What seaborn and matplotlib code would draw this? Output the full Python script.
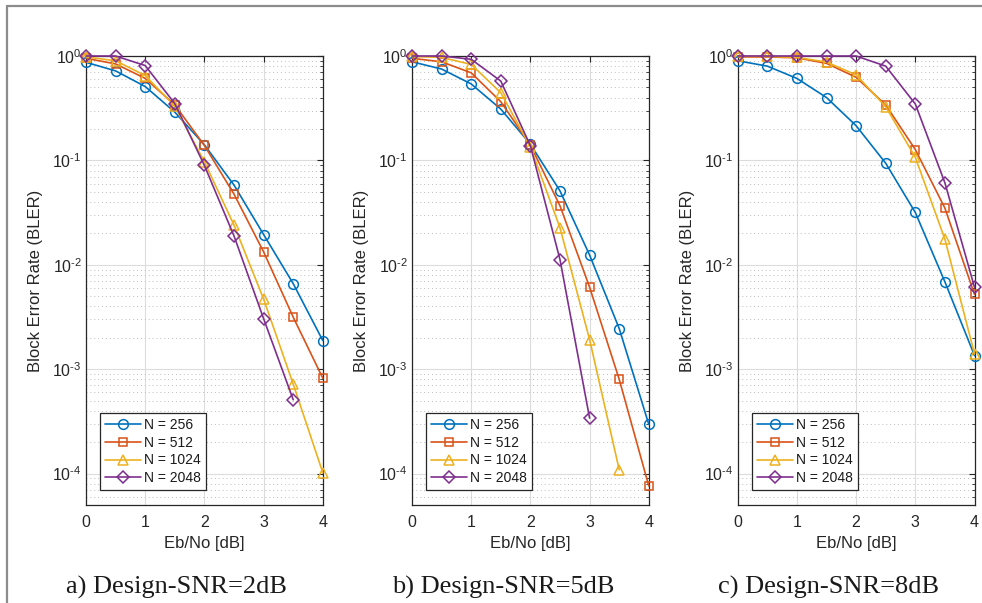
import matplotlib
matplotlib.use("Agg")
import matplotlib.pyplot as plt
import seaborn as sns
import pandas as pd
from matplotlib.ticker import LogLocator, FuncFormatter, NullFormatter, FixedLocator
from matplotlib.lines import Line2D
import math

# Eb/No sweep in dB
ebno = [0, 0.5, 1, 1.5, 2, 2.5, 3, 3.5, 4]
block_lengths = ["N = 256", "N = 512", "N = 1024", "N = 2048"]
captions = ["a) Design-SNR=2dB", "b) Design-SNR=5dB", "c) Design-SNR=8dB"]

# BLER, Design-SNR = 2 dB
bler_2db_n256 = [0.87, 0.72, 0.51, 0.29, 0.141, 0.058, 0.0195, 0.0066, 0.00188]
bler_2db_n512 = [0.95, 0.84, 0.61, 0.34, 0.139, 0.0475, 0.0133, 0.00315, 0.00082]
bler_2db_n1024 = [0.98, 0.90, 0.65, 0.33, 0.097, 0.024, 0.0047, 0.00072, 0.000102]
bler_2db_n2048 = [1.0, 1.0, 0.81, 0.35, 0.0895, 0.0189, 0.00305, 0.00051]

# BLER, Design-SNR = 5 dB
bler_5db_n256 = [0.88, 0.75, 0.54, 0.31, 0.143, 0.051, 0.0124, 0.00245, 0.000296]
bler_5db_n512 = [0.95, 0.88, 0.69, 0.365, 0.14, 0.0367, 0.0061, 0.0008, 0.000076]
bler_5db_n1024 = [0.99, 0.97, 0.83, 0.445, 0.135, 0.0226, 0.00192, 0.000109]
bler_5db_n2048 = [1.0, 1.0, 0.93, 0.575, 0.138, 0.0112, 0.00034]

# BLER, Design-SNR = 8 dB
bler_8db_n256 = [0.90, 0.80, 0.61, 0.40, 0.215, 0.094, 0.0317, 0.00686, 0.00135]
bler_8db_n512 = [0.98, 0.98, 0.96, 0.85, 0.625, 0.34, 0.127, 0.0349, 0.0052]
bler_8db_n1024 = [0.99, 0.99, 0.97, 0.875, 0.66, 0.327, 0.107, 0.0176, 0.0014]
bler_8db_n2048 = [1.0, 1.0, 1.0, 1.0, 1.0, 0.80, 0.347, 0.061, 0.0061]

panels = [
    [bler_2db_n256, bler_2db_n512, bler_2db_n1024, bler_2db_n2048],
    [bler_5db_n256, bler_5db_n512, bler_5db_n1024, bler_5db_n2048],
    [bler_8db_n256, bler_8db_n512, bler_8db_n1024, bler_8db_n2048],
]

colors = ["#0072BD", "#D95319", "#EDB120", "#7E2F8E"]
markers = ["o", "s", "^", "D"]
marker_sizes = [7, 6, 7.5, 6]

sns.set_theme(style="white")
plt.rcParams["font.family"] = ["Liberation Sans", "DejaVu Sans"]
plt.rcParams["mathtext.default"] = "regular"


def decade_label(v, pos):
    e = int(round(math.log10(v)))
    sign = "\u2010" if e < 0 else ""
    return "10$^{\\mathregular{%s%d}}$" % (sign, abs(e))


fig = plt.figure(figsize=(9.82, 6.03), dpi=100)
fig.patch.set_facecolor("white")

# thin gray frame along the top and left edge of the figure
fig.add_artist(Line2D([7 / 982, 7 / 982], [0, 1 - 6 / 603], transform=fig.transFigure,
                      color="#8c8c8c", lw=1.6))
fig.add_artist(Line2D([7 / 982, 1], [1 - 6 / 603, 1 - 6 / 603], transform=fig.transFigure,
                      color="#8c8c8c", lw=1.6))

lefts = [86 / 982, 412 / 982, 737.7 / 982]
width = 236.8 / 982
bottom = 1 - 505 / 603
height = (505 - 56) / 603
caption_x = [176.7 / 982, 503 / 982, 829 / 982]

spine_col = "#262626"

for p, series in enumerate(panels):
    ax = fig.add_axes([lefts[p], bottom, width, height])
    ax.set_facecolor("white")
    for k, vals in enumerate(series):
        df = pd.DataFrame({"ebno": ebno[:len(vals)], "bler": vals})
        sns.lineplot(data=df, x="ebno", y="bler", ax=ax, color=colors[k],
                     marker=markers[k], markersize=marker_sizes[k],
                     markerfacecolor="none", markeredgecolor=colors[k],
                     markeredgewidth=1.1, linewidth=1.2, label=block_lengths[k],
                     clip_on=False, zorder=3)
    ax.set_yscale("log")
    ax.set_xlim(0, 4)
    ax.set_ylim(5e-5, 1)
    ax.xaxis.set_major_locator(FixedLocator([0, 1, 2, 3, 4]))
    ax.set_xticklabels(["0", "1", "2", "3", "4"])
    ax.yaxis.set_major_locator(LogLocator(base=10, numticks=10))
    ax.yaxis.set_major_formatter(FuncFormatter(decade_label))
    ax.yaxis.set_minor_locator(LogLocator(base=10, subs=range(2, 10), numticks=20))
    ax.yaxis.set_minor_formatter(NullFormatter())

    ax.grid(True, which="major", axis="both", color="#dcdcdc", linewidth=0.8, linestyle="-")
    ax.grid(True, which="minor", axis="y", color="#bdbdbd", linewidth=0.7, linestyle=(0, (1, 3)))
    ax.set_axisbelow(True)

    for s in ax.spines.values():
        s.set_color(spine_col)
        s.set_linewidth(0.9)
    ax.tick_params(axis="both", which="both", direction="in", top=True, right=True,
                   colors=spine_col, labelcolor="#262626")
    ax.tick_params(axis="both", which="major", length=4, width=0.8, labelsize=11.5)
    ax.tick_params(axis="y", which="minor", length=2.2, width=0.6)
    ax.tick_params(axis="x", which="major", pad=7)
    ax.tick_params(axis="y", which="major", pad=3)

    ax.set_xlabel("Eb/No [dB]", fontsize=12, color="#262626")
    ax.set_ylabel("Block Error Rate (BLER)", fontsize=12, color="#262626")
    ax.xaxis.set_label_coords(0.5, -0.07)
    ax.yaxis.set_label_coords(-0.18, 0.5)

    leg = ax.legend(loc="lower left", bbox_to_anchor=(0.059, 0.033), borderaxespad=0,
                    fontsize=10, frameon=True, fancybox=False, framealpha=1,
                    edgecolor="#262626", handlelength=2.6, handletextpad=0.25,
                    labelspacing=0.28, borderpad=0.35, numpoints=1)
    leg.get_frame().set_linewidth(0.9)
    for t in leg.get_texts():
        t.set_color("#1a1a1a")

    fig.text(caption_x[p], 1 - 593.3 / 603, captions[p], ha="center", va="baseline",
             fontsize=19, family=["Liberation Serif", "DejaVu Serif"], color="#1a1a1a")

fig.savefig("out.png", dpi=100)
